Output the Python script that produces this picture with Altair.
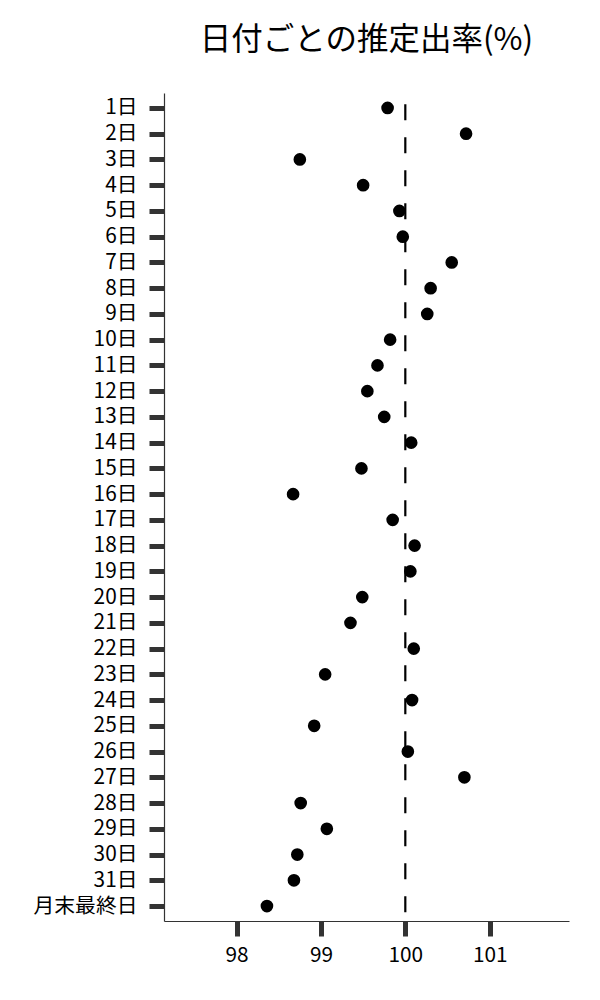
import altair as alt
import pandas as pd

days = [f"{i}日" for i in range(1, 32)] + ["月末最終日"]
rates = [99.79, 100.72, 98.75, 99.50, 99.93, 99.97, 100.55, 100.30, 100.26, 99.82,
         99.67, 99.55, 99.75, 100.07, 99.48, 98.67, 99.85, 100.11, 100.06, 99.49,
         99.35, 100.10, 99.05, 100.08, 98.92, 100.03, 100.70, 98.76, 99.07, 98.72,
         98.68, 98.36]
ref_value = [100]
x_ticks = [98, 99, 100, 101]

df = pd.DataFrame({"day": days, "rate": rates})
ref = pd.DataFrame({"v": ref_value})

FONT = "Noto Sans CJK JP"

x_scale = alt.Scale(domain=[97.14, 101.94], nice=False, zero=False)

points = alt.Chart(df).mark_circle(size=160, color="black", opacity=1).encode(
    x=alt.X("rate:Q", scale=x_scale,
            axis=alt.Axis(title=None, values=x_ticks, format="d")),
    y=alt.Y("day:N", sort=days, scale=alt.Scale(type="point", padding=0.58),
            axis=alt.Axis(title=None)),
)

rule = alt.Chart(ref).mark_rule(color="black", strokeWidth=2.2,
                                strokeDash=[16, 17], strokeDashOffset=21.7).encode(
    x=alt.X("v:Q", scale=x_scale)
)

chart = (rule + points).properties(
    width=405,
    height=828,
    title=alt.TitleParams("日付ごとの推定出率(%)", font=FONT, fontSize=31.5,
                          fontWeight="normal", color="black", anchor="middle",
                          baseline="bottom", offset=3),
    autosize=alt.AutoSizeParams(type="none"),
    padding={"left": 156, "top": 85, "right": 20, "bottom": 60},
).configure_view(stroke=None).configure_axis(
    labelFont=FONT, labelFontSize=20.8, labelColor="black",
    tickColor="#333333", tickWidth=5, tickSize=15,
    domainColor="#333333", domainWidth=1.2, grid=False,
    labelPadding=9,
).configure_axisY(labelPadding=12)

chart.save("out.html", embed_options={"renderer": "svg", "actions": False})
